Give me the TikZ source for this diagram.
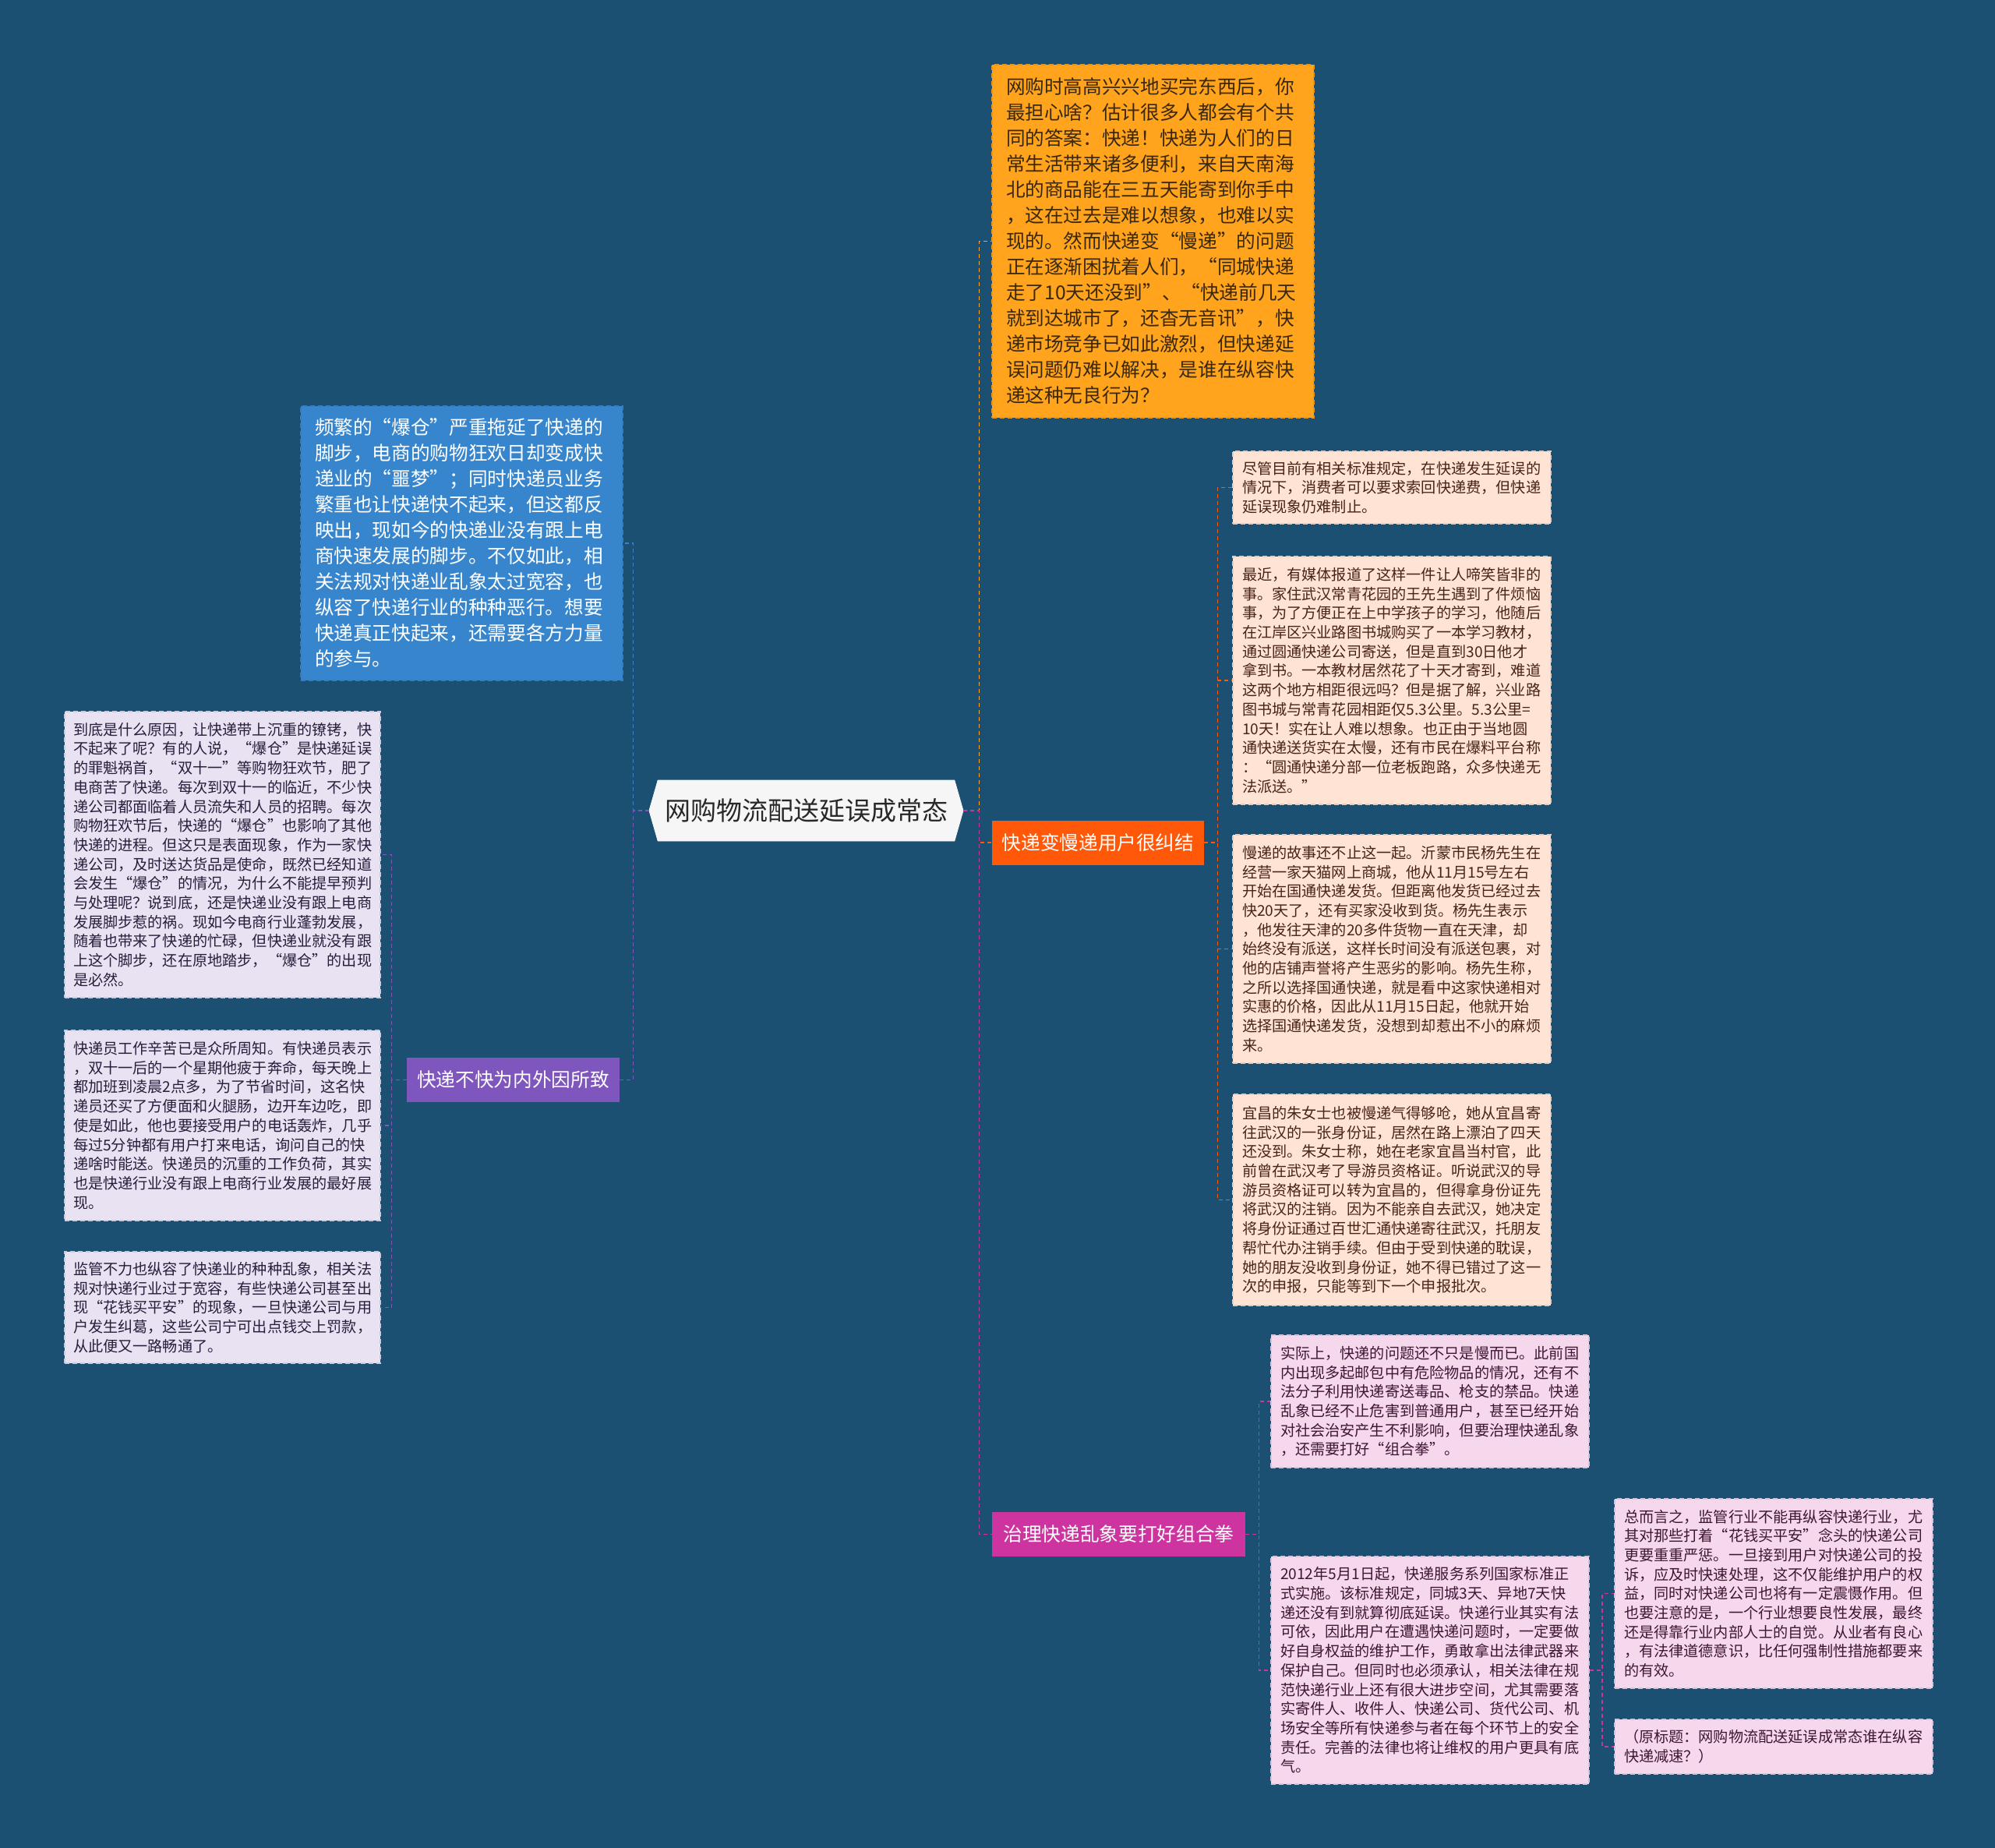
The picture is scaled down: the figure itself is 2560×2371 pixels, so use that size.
\documentclass[tikz,border=0pt]{standalone}
\usepackage{fontspec}
\setmainfont{Noto Sans CJK SC}
\usetikzlibrary{shapes.symbols}
\definecolor{bgc}{RGB}{27,80,115}
\definecolor{orgfill}{RGB}{255,164,28}
\definecolor{orgtext}{RGB}{58,40,12}
\definecolor{bluefill}{RGB}{55,134,205}
\definecolor{lavfill}{RGB}{232,226,242}
\definecolor{lavtext}{RGB}{40,30,60}
\definecolor{peachfill}{RGB}{255,227,212}
\definecolor{peachtext}{RGB}{72,36,20}
\definecolor{pinkfill}{RGB}{245,216,235}
\definecolor{pinktext}{RGB}{62,22,52}
\definecolor{redbr}{RGB}{255,88,8}
\definecolor{purbr}{RGB}{126,86,190}
\definecolor{magbr}{RGB}{206,52,160}
\definecolor{ctrfill}{RGB}{246,246,246}
\definecolor{ctrtext}{RGB}{40,40,40}
\tikzset{
  bigbox/.style={anchor=north west, line width=1pt, dash pattern=on 3pt off 2pt,
    inner xsep=9pt, inner ysep=0pt, align=left, text width=188.5pt, minimum width=206.5pt,
    font=\fontsize{12.33pt}{16.5pt}\selectfont},
  smallbox/.style={anchor=north west, line width=1pt, dash pattern=on 3pt off 2pt,
    inner xsep=6pt, inner ysep=0pt, align=left, text width=192pt, minimum width=204pt,
    font=\fontsize{9.58pt}{12.35pt}\selectfont},
  lavbox/.style={smallbox, fill=lavfill, draw=lavfill!85!bgc, text=lavtext},
  peachbox/.style={smallbox, fill=peachfill, draw=peachfill!85!bgc, text=peachtext},
  pinkbox/.style={smallbox, fill=pinkfill, draw=pinkfill!85!bgc, text=pinktext},
  branch/.style={inner sep=0pt, text=white, font=\fontsize{12.33pt}{15pt}\selectfont,
    minimum height=28.5pt},
  conn/.style={line width=0.8pt, dash pattern=on 2.5pt off 2pt},
}
\begin{document}
\begin{tikzpicture}[x=0.5pt,y=-0.5pt]
\fill[bgc] (0,0) rectangle (2560,2371);

% connectors (drawn first, boxes cover their ends)
\coordinate (cE) at (1236,1040);
\coordinate (cW) at (833,1040);

% centre
\node[shape=signal, signal to=west and east, signal pointer angle=148, fill=ctrfill,
  draw=ctrfill, text=ctrtext, minimum width=201.5pt, minimum height=39pt, inner sep=0pt,
  font=\fontsize{16.5pt}{18pt}\selectfont] (c) at (1034.5,1040) {网购物流配送延误成常态};

% top orange box
\node[bigbox, fill=orgfill, draw=orgfill!85!bgc, text=orgtext, minimum height=226.5pt] (top) at (1272,82) {%
网购时高高兴兴地买完东西后，你\\
最担心啥？估计很多人都会有个共\\
同的答案：快递！快递为人们的日\\
常生活带来诸多便利，来自天南海\\
北的商品能在三五天能寄到你手中\\
，这在过去是难以想象，也难以实\\
现的。然而快递变“慢递”的问题\\
正在逐渐困扰着人们，“同城快递\\
走了10天还没到”、“快递前几天\\
就到达城市了，还杳无音讯”，快\\
递市场竞争已如此激烈，但快递延\\
误问题仍难以解决，是谁在纵容快\\
递这种无良行为？};

% blue box
\node[bigbox, fill=bluefill, draw=bluefill!85!bgc, text=white, minimum height=176pt] (blue) at (385,520) {%
频繁的“爆仓”严重拖延了快递的\\
脚步，电商的购物狂欢日却变成快\\
递业的“噩梦”；同时快递员业务\\
繁重也让快递快不起来，但这都反\\
映出，现如今的快递业没有跟上电\\
商快速发展的脚步。不仅如此，相\\
关法规对快递业乱象太过宽容，也\\
纵容了快递行业的种种恶行。想要\\
快递真正快起来，还需要各方力量\\
的参与。};

% branches
\node[branch, fill=redbr, minimum width=136pt] (red) at (1409,1081) {快递变慢递用户很纠结};
\node[branch, fill=purbr, minimum width=136.5pt] (pur) at (658.5,1385.5) {快递不快为内外因所致};
\node[branch, fill=magbr, minimum width=162.5pt] (mag) at (1435.5,1968.5) {治理快递乱象要打好组合拳};

% left lavender boxes
\node[lavbox, minimum width=202.5pt, text width=191.5pt, inner xsep=5.5pt, minimum height=183.5pt] (l1) at (82,912) {%
到底是什么原因，让快递带上沉重的镣铐，快\\
不起来了呢？有的人说，“爆仓”是快递延误\\
的罪魁祸首，“双十一”等购物狂欢节，肥了\\
电商苦了快递。每次到双十一的临近，不少快\\
递公司都面临着人员流失和人员的招聘。每次\\
购物狂欢节后，快递的“爆仓”也影响了其他\\
快递的进程。但这只是表面现象，作为一家快\\
递公司，及时送达货品是使命，既然已经知道\\
会发生“爆仓”的情况，为什么不能提早预判\\
与处理呢？说到底，还是快递业没有跟上电商\\
发展脚步惹的祸。现如今电商行业蓬勃发展，\\
随着也带来了快递的忙碌，但快递业就没有跟\\
上这个脚步，还在原地踏步，“爆仓”的出现\\
是必然。};
\node[lavbox, minimum width=202.5pt, text width=191.5pt, inner xsep=5.5pt, minimum height=122pt] (l2) at (82,1321) {%
快递员工作辛苦已是众所周知。有快递员表示\\
，双十一后的一个星期他疲于奔命，每天晚上\\
都加班到凌晨2点多，为了节省时间，这名快\\
递员还买了方便面和火腿肠，边开车边吃，即\\
使是如此，他也要接受用户的电话轰炸，几乎\\
每过5分钟都有用户打来电话，询问自己的快\\
递啥时能送。快递员的沉重的工作负荷，其实\\
也是快递行业没有跟上电商行业发展的最好展\\
现。};
\node[lavbox, minimum width=202.5pt, text width=191.5pt, inner xsep=5.5pt, minimum height=71.5pt] (l3) at (82,1605) {%
监管不力也纵容了快递业的种种乱象，相关法\\
规对快递行业过于宽容，有些快递公司甚至出\\
现“花钱买平安”的现象，一旦快递公司与用\\
户发生纠葛，这些公司宁可出点钱交上罚款，\\
从此便又一路畅通了。};

% right peach boxes
\node[peachbox, minimum height=46.5pt] (r1) at (1581,578) {%
尽管目前有相关标准规定，在快递发生延误的\\
情况下，消费者可以要求索回快递费，但快递\\
延误现象仍难制止。};
\node[peachbox, minimum height=159pt] (r2) at (1581,713) {%
最近，有媒体报道了这样一件让人啼笑皆非的\\
事。家住武汉常青花园的王先生遇到了件烦恼\\
事，为了方便正在上中学孩子的学习，他随后\\
在江岸区兴业路图书城购买了一本学习教材，\\
通过圆通快递公司寄送，但是直到30日他才\\
拿到书。一本教材居然花了十天才寄到，难道\\
这两个地方相距很远吗？但是据了解，兴业路\\
图书城与常青花园相距仅5.3公里。5.3公里=\\
10天！实在让人难以想象。也正由于当地圆\\
通快递送货实在太慢，还有市民在爆料平台称\\
：“圆通快递分部一位老板跑路，众多快递无\\
法派送。”};
\node[peachbox, minimum height=146.5pt] (r3) at (1581,1070) {%
慢递的故事还不止这一起。沂蒙市民杨先生在\\
经营一家天猫网上商城，他从11月15号左右\\
开始在国通快递发货。但距离他发货已经过去\\
快20天了，还有买家没收到货。杨先生表示\\
，他发往天津的20多件货物一直在天津，却\\
始终没有派送，这样长时间没有派送包裹，对\\
他的店铺声誉将产生恶劣的影响。杨先生称，\\
之所以选择国通快递，就是看中这家快递相对\\
实惠的价格，因此从11月15日起，他就开始\\
选择国通快递发货，没想到却惹出不小的麻烦\\
来。};
\node[peachbox, minimum height=135.5pt] (r4) at (1581,1403) {%
宜昌的朱女士也被慢递气得够呛，她从宜昌寄\\
往武汉的一张身份证，居然在路上漂泊了四天\\
还没到。朱女士称，她在老家宜昌当村官，此\\
前曾在武汉考了导游员资格证。听说武汉的导\\
游员资格证可以转为宜昌的，但得拿身份证先\\
将武汉的注销。因为不能亲自去武汉，她决定\\
将身份证通过百世汇通快递寄往武汉，托朋友\\
帮忙代办注销手续。但由于受到快递的耽误，\\
她的朋友没收到身份证，她不得已错过了这一\\
次的申报，只能等到下一个申报批次。};

% pink boxes
\node[pinkbox, minimum height=85pt] (p1) at (1630,1712) {%
实际上，快递的问题还不只是慢而已。此前国\\
内出现多起邮包中有危险物品的情况，还有不\\
法分子利用快递寄送毒品、枪支的禁品。快递\\
乱象已经不止危害到普通用户，甚至已经开始\\
对社会治安产生不利影响，但要治理快递乱象\\
，还需要打好“组合拳”。};
\node[pinkbox, minimum height=146pt] (p2) at (1630,1996) {%
2012年5月1日起，快递服务系列国家标准正\\
式实施。该标准规定，同城3天、异地7天快\\
递还没有到就算彻底延误。快递行业其实有法\\
可依，因此用户在遭遇快递问题时，一定要做\\
好自身权益的维护工作，勇敢拿出法律武器来\\
保护自己。但同时也必须承认，相关法律在规\\
范快递行业上还有很大进步空间，尤其需要落\\
实寄件人、收件人、快递公司、货代公司、机\\
场安全等所有快递参与者在每个环节上的安全\\
责任。完善的法律也将让维权的用户更具有底\\
气。};
\node[pinkbox, minimum height=121.5pt] (p3) at (2071,1922) {%
总而言之，监管行业不能再纵容快递行业，尤\\
其对那些打着“花钱买平安”念头的快递公司\\
更要重重严惩。一旦接到用户对快递公司的投\\
诉，应及时快速处理，这不仅能维护用户的权\\
益，同时对快递公司也将有一定震慑作用。但\\
也要注意的是，一个行业想要良性发展，最终\\
还是得靠行业内部人士的自觉。从业者有良心\\
，有法律道德意识，比任何强制性措施都要来\\
的有效。};
\node[pinkbox, minimum height=35pt] (p4) at (2071,2205) {%
（原标题：网购物流配送延误成常态谁在纵容\\
快递减速？）};

% connectors
\draw[conn, orgfill] (c.east) -- ++(20,0) |- (top.west);
\draw[conn, redbr] (c.east) -- ++(20,0) |- (red.west);
\draw[conn, magbr] (c.east) -- ++(20,0) |- (mag.west);
\draw[conn, bluefill] (c.west) -- ++(-20,0) |- (blue.east);
\draw[conn, purbr] (c.west) -- ++(-20,0) |- (pur.east);
\foreach \t in {l1,l2,l3} \draw[conn, purbr] (pur.west) -- ++(-19,0) |- (\t.east);
\foreach \t in {r1,r2,r3,r4} \draw[conn, redbr] (red.east) -- ++(17,0) |- (\t.west);
\foreach \t in {p1,p2} \draw[conn, magbr] (mag.east) -- ++(17,0) |- (\t.west);
\foreach \t in {p3,p4} \draw[conn, magbr] (p2.east) -- ++(16,0) |- (\t.west);
\end{tikzpicture}
\end{document}
